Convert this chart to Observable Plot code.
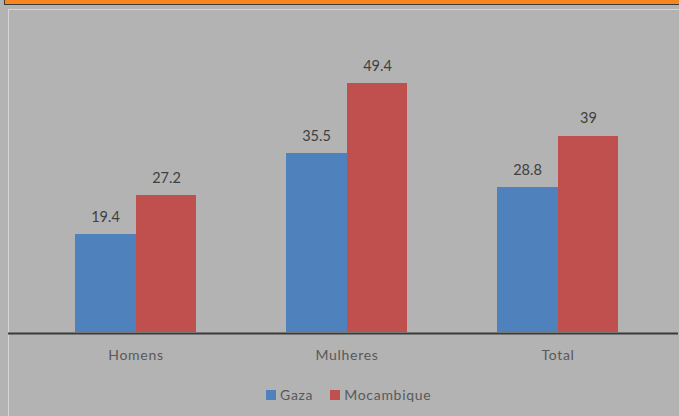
<!DOCTYPE html>
<html>
<head>
<meta charset="utf-8">
<script src="https://cdn.jsdelivr.net/npm/d3@7"></script>
<script src="https://cdn.jsdelivr.net/npm/@observablehq/plot@0.6"></script>
<style>
  html, body { margin: 0; padding: 0; }
  body { width: 679px; height: 416px; background: #b3b3b3; position: relative; overflow: hidden; font-family: Lato, "Open Sans", sans-serif; }
  #topbar { position: absolute; left: 4px; top: 0; right: -2px; height: 4px; background: #f7861f; border-left: 1px solid #3a3a3a; border-bottom: 1px solid #3a3a3a; }
  #frame { position: absolute; left: 8px; top: 9px; right: -2px; bottom: -2px; border-left: 1px solid #d6d6d6; border-top: 1px solid #d6d6d6; }
  #chart { position: absolute; left: 0; top: 0; }
  #legend { position: absolute; left: 266px; top: 386px; display: flex; align-items: center; font-size: 14px; letter-spacing: 0.7px; color: #595959; }
  #legend .item { display: flex; align-items: center; margin-right: 17px; }
  #legend .sw { width: 10px; height: 10px; margin-right: 4px; }
</style>
</head>
<body>
<div id="topbar"></div>
<div id="frame"></div>
<div id="chart"></div>
<div id="legend"></div>
<script>
const categories = ["Homens", "Mulheres", "Total"];
const series = ["Gaza", "Mocambique"];
const gazaValues = [19.4, 35.5, 28.8];
const mocambiqueValues = [27.2, 49.4, 39];
const colors = ["#4f81bd", "#c0504d"];

const gaza = categories.map((c, i) => ({category: c, series: "Gaza", value: gazaValues[i]}));
const moc = categories.map((c, i) => ({category: c, series: "Mocambique", value: mocambiqueValues[i]}));

const half = 61;
const chart = Plot.plot({
  width: 679,
  height: 372,
  marginLeft: 8,
  marginRight: 1,
  marginTop: 20,
  marginBottom: 40,
  style: {background: "transparent", fontFamily: "Lato, 'Open Sans', sans-serif"},
  x: {domain: categories, paddingInner: 0.4245, paddingOuter: 0.2925, align: 0.532},
  y: {domain: [0, 62], axis: null},
  marks: [
    Plot.barY(gaza, {x: "category", y: "value", fill: colors[0], insetRight: half - 1.5, insetLeft: 0, shapeRendering: "crispEdges"}),
    Plot.barY(moc, {x: "category", y: "value", fill: colors[1], insetLeft: half, insetRight: 0, shapeRendering: "crispEdges"}),
    Plot.text(gaza, {x: "category", y: "value", text: d => String(d.value), dx: -half / 2, dy: -13, lineAnchor: "bottom", fill: "#404040", fontSize: 14.5, style: "letter-spacing:0.4px"}),
    Plot.text(moc, {x: "category", y: "value", text: d => String(d.value), dx: half / 2, dy: -13, lineAnchor: "bottom", fill: "#404040", fontSize: 14.5, style: "letter-spacing:0.4px"}),
    Plot.ruleY([0], {stroke: "#3a3a3a", strokeWidth: 2, dy: 1}),
    Plot.axisX({tickSize: 0, tickPadding: 18, fontSize: 14, fill: "#595959", label: null})
  ]
});
chart.querySelectorAll("g[aria-label='x-axis tick label'] text").forEach(t => t.setAttribute("letter-spacing", "0.7"));
document.getElementById("chart").appendChild(chart);

const legend = document.getElementById("legend");
series.forEach((s, i) => {
  const item = document.createElement("div");
  item.className = "item";
  const sw = document.createElement("div");
  sw.className = "sw";
  sw.style.background = colors[i];
  const lab = document.createElement("span");
  lab.textContent = s;
  item.appendChild(sw);
  item.appendChild(lab);
  legend.appendChild(item);
});
</script>
</body>
</html>
